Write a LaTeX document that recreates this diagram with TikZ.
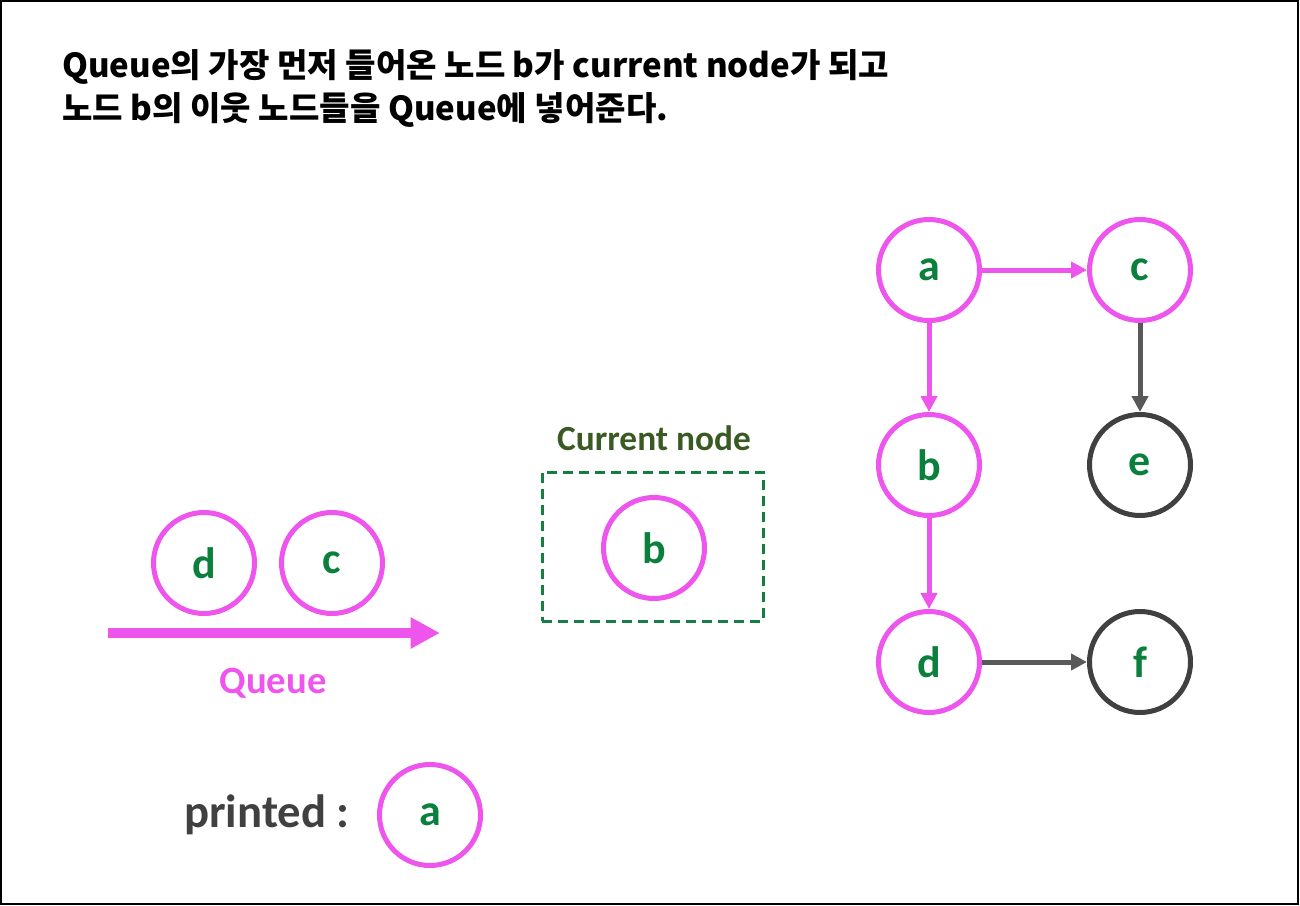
\documentclass[tikz,border=0pt]{standalone}
\usepackage{fontspec}
\setmainfont{Carlito}
\newfontfamily\krfont{Noto Sans CJK KR}
\usetikzlibrary{arrows.meta}
\definecolor{pinkc}{HTML}{EE55EC}
\definecolor{greent}{HTML}{0B7F3C}
\definecolor{boxgreen}{HTML}{13803F}
\definecolor{olive}{HTML}{3A5A23}
\definecolor{darkc}{HTML}{404040}
\definecolor{grayarr}{HTML}{595959}
\tikzset{
  vnode/.style={circle, draw=pinkc, line width=3.75pt, minimum size=75.75pt, inner sep=0pt,
    text=greent, font=\fontsize{33}{33}\selectfont\bfseries},
  vdark/.style={vnode, draw=darkc},
  parr/.style={draw=pinkc, line width=3.75pt, -{Triangle[length=12pt,width=12pt]}},
  garr/.style={draw=grayarr, line width=3.75pt, -{Triangle[length=12pt,width=12pt]}},
  title/.style={anchor=base west, inner sep=0pt, font=\krfont\bfseries\fontsize{24.8}{24.8}\selectfont},
}
\begin{document}
\begin{tikzpicture}[x=0.75pt, y=-0.75pt]
\useasboundingbox (0,0) rectangle (1300,906);
\draw[line width=1.5pt, black] (1,1) rectangle (1298,904);

\node[title] (t1) at (62,78) {Queue의 가장 먼저 들어온 노드 b가 current node가 되고};
\node[title] (t2) at (62,120) {노드 b의 이웃 노드들을 Queue에 넣어준다.};

% graph
\node[vnode] (a) at (929,270) {a};
\node[vnode] (c) at (1140,270) {c};
\node[vnode] (b) at (929,465) {b};
\node[vdark] (e) at (1140,465) {e};
\node[vnode] (d) at (929,662) {d};
\node[vdark] (f) at (1140,662) {f};
\draw[parr] (a) -- (c);
\draw[parr] (a) -- (b);
\draw[parr] (b) -- (d);
\draw[garr] (c) -- (e);
\draw[garr] (d) -- (f);

% queue
\node[vnode] (qd) at (204,563) {d};
\node[vnode] (qc) at (332,563) {c};
\coordinate (qs) at (108,633);
\coordinate (qe) at (440,633);
\draw[draw=pinkc, line width=7.5pt, -{Triangle[length=22pt,width=22pt]}] (qs) -- (qe);
\node[text=pinkc, font=\fontsize{29}{29}\selectfont\bfseries] (ql) at (273,683) {Queue};

% current node
\node[draw=boxgreen, line width=2.25pt, dash pattern=on 7.5pt off 4.5pt, minimum width=165.75pt, minimum height=111.75pt, inner sep=0pt] (box) at (652.5,546.5) {};
\node[vnode] (cb) at (654,548) {b};
\node[text=olive, font=\fontsize{26.5}{26.5}\selectfont\bfseries] (cl) at (654,438) {Current node};

% printed
\node[text=darkc, font=\fontsize{35}{35}\selectfont\bfseries] (pl) at (267,815) {printed :};
\node[vnode] (pa) at (430,815) {a};
\end{tikzpicture}
\end{document}
